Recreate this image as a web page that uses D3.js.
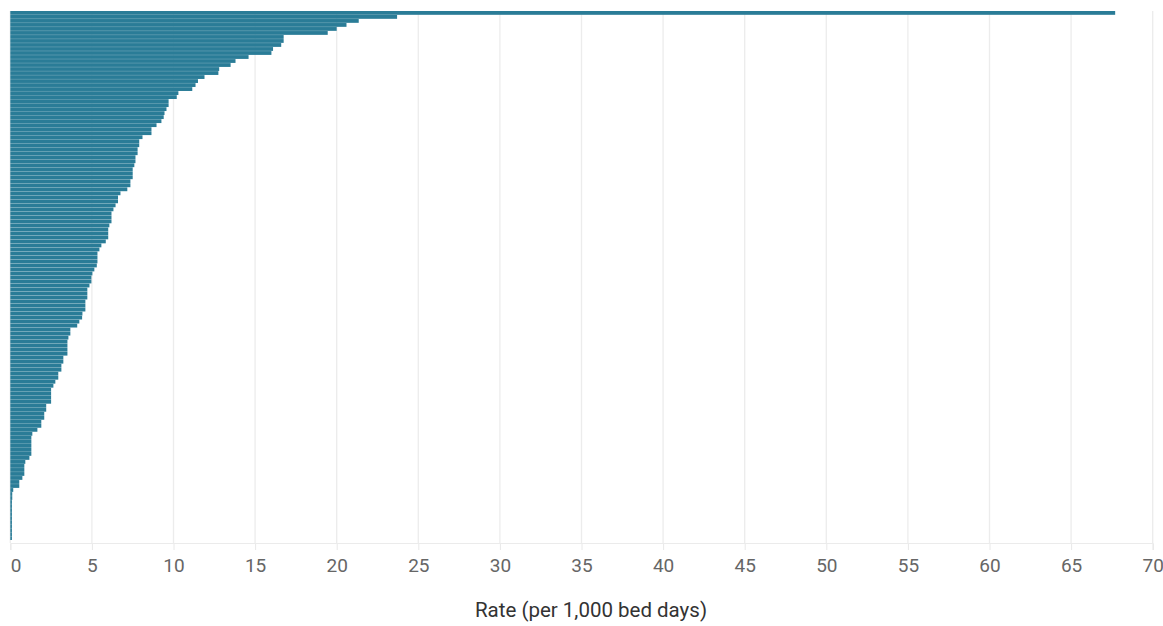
<!DOCTYPE html>
<html>
<head>
<meta charset="utf-8">
<script src="https://cdn.jsdelivr.net/npm/d3@7"></script>
<style>
  html, body { margin: 0; padding: 0; background: #ffffff; }
  svg { display: block; font-family: Roboto, "Liberation Sans", Arial, sans-serif; }
</style>
</head>
<body>
<svg id="chart" width="1163" height="626"></svg>
<script>
// ---- data (sorted descending) ----
const rates = [
  67.7, 23.7, 21.35, 20.6, 20.0, 19.45, 16.75, 16.75, 16.6, 16.1,
  16.0, 14.6, 13.8, 13.5, 12.8, 12.75, 11.9, 11.5, 11.35, 11.15,
  10.3, 10.2, 9.7, 9.7, 9.57, 9.45, 9.4, 9.26, 8.96, 8.65,
  8.65, 8.1, 7.9, 7.9, 7.8, 7.8, 7.67, 7.67, 7.6, 7.5,
  7.5, 7.5, 7.36, 7.36, 7.17, 6.75, 6.6, 6.6, 6.45, 6.32,
  6.2, 6.2, 6.2, 6.07, 6.0, 6.0, 6.0, 5.85, 5.58, 5.46,
  5.34, 5.34, 5.34, 5.3, 5.15, 5.03, 4.97, 4.97, 4.85, 4.72,
  4.72, 4.72, 4.6, 4.6, 4.6, 4.42, 4.4, 4.23, 4.1, 3.68,
  3.68, 3.56, 3.5, 3.5, 3.5, 3.5, 3.25, 3.25, 3.13, 3.13,
  2.94, 2.94, 2.76, 2.64, 2.5, 2.5, 2.5, 2.5, 2.2, 2.2,
  2.08, 2.08, 1.9, 1.9, 1.66, 1.35, 1.29, 1.29, 1.29, 1.29,
  1.29, 1.17, 0.92, 0.86, 0.86, 0.86, 0.74, 0.55, 0.55, 0.18,
  0.12, 0.12, 0.1, 0.1, 0.1, 0.1, 0.1, 0.1, 0.1, 0.1,
  0.1, 0.1
];
const categories = rates.map((_, i) => "Unit " + (i + 1));
const xTicks = [0, 5, 10, 15, 20, 25, 30, 35, 40, 45, 50, 55, 60, 65, 70];
const xDomain = [0, 70];
const xTitle = "Rate (per 1,000 bed days)";

// ---- layout ----
const svg = d3.select("#chart");
const plotLeft = 10.3, plotRight = 1152.7, plotTop = 11, plotBottom = 540, axisY = 543;

const x = d3.scaleLinear().domain(xDomain).range([plotLeft, plotRight]);
const y = d3.scaleBand().domain(categories).range([plotTop, plotBottom]).paddingInner(0.05);

// gridlines
svg.append("g")
  .selectAll("line")
  .data(xTicks)
  .join("line")
  .attr("x1", d => x(d)).attr("x2", d => x(d))
  .attr("y1", plotTop).attr("y2", axisY)
  .attr("stroke", "#ececec")
  .attr("stroke-width", 1.3);

// bars
svg.append("g")
  .selectAll("rect")
  .data(rates)
  .join("rect")
  .attr("x", x(0))
  .attr("y", (d, i) => y(categories[i]))
  .attr("width", d => x(d) - x(0))
  .attr("height", y.bandwidth())
  .attr("fill", "#2a7c97");

// x axis
const axis = d3.axisBottom(x).tickValues(xTicks).tickSize(7).tickPadding(8);
const gx = svg.append("g")
  .attr("transform", `translate(0,${axisY})`)
  .call(axis);
gx.select(".domain").attr("stroke", "#ebebeb").attr("stroke-width", 1.2);
gx.selectAll(".tick line").attr("stroke", "#e8e8e8").attr("y1", 1);
gx.selectAll(".tick text")
  .attr("fill", "#666666")
  .attr("font-size", 19)
  .attr("font-family", 'Roboto, "Liberation Sans", Arial, sans-serif')
  .attr("dy", null)
  .attr("y", 29)
  .attr("text-anchor", (d, i) => i === 0 ? "start" : "middle");

// axis title
svg.append("text")
  .attr("x", 591)
  .attr("y", 617)
  .attr("text-anchor", "middle")
  .attr("fill", "#333333")
  .attr("font-size", 20.5)
  .text(xTitle);
</script>
</body>
</html>
